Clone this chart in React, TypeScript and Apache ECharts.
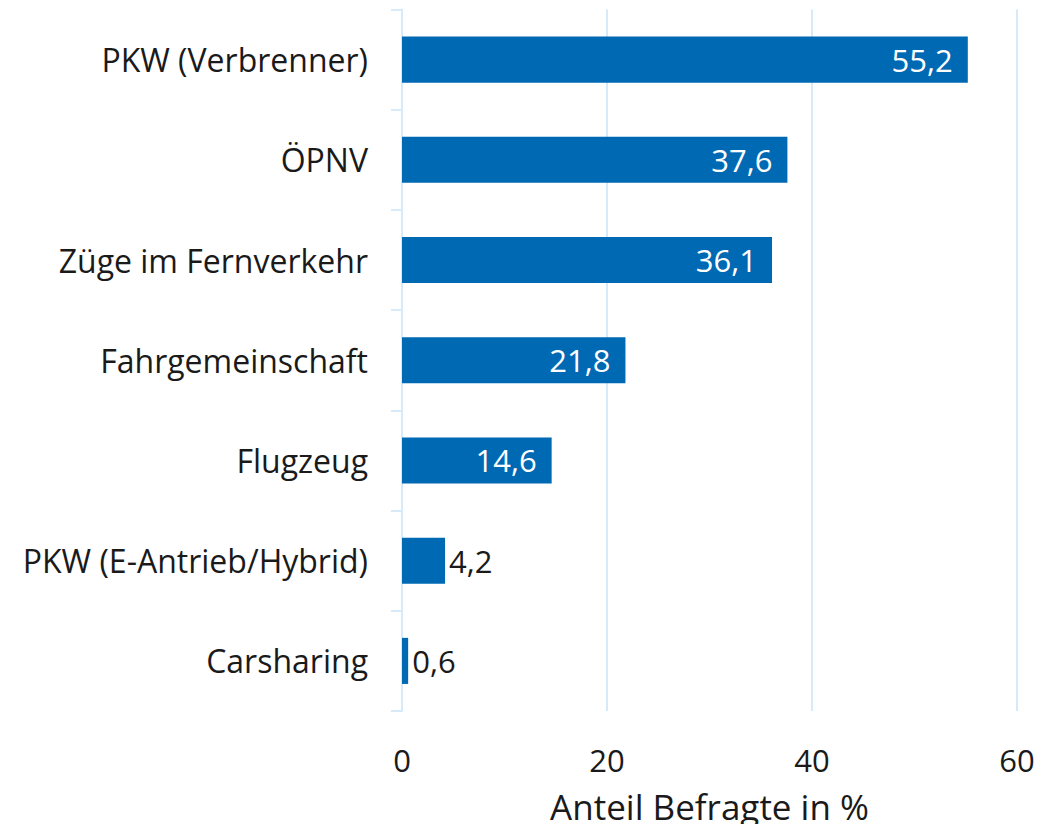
import React, { useEffect, useRef } from "react";
import * as echarts from "echarts";

const categories = [
  "PKW (Verbrenner)",
  "ÖPNV",
  "Züge im Fernverkehr",
  "Fahrgemeinschaft",
  "Flugzeug",
  "PKW (E-Antrieb/Hybrid)",
  "Carsharing",
];
const values = [55.2, 37.6, 36.1, 21.8, 14.6, 4.2, 0.6];
const xTicks = [0, 20, 40, 60];
const axisTitle = "Anteil Befragte in %";

const fmt = (v: number) => v.toFixed(1).replace(".", ",");

export default function App() {
  const ref = useRef<HTMLDivElement>(null);
  useEffect(() => {
    if (!ref.current) return;
    const chart = echarts.init(ref.current, undefined, { renderer: "svg" });
    const font = "'Open Sans', sans-serif";
    chart.setOption({
      animation: false,
      grid: { left: 402, right: 31, top: 9.5, bottom: 121, containLabel: false },
      xAxis: {
        type: "value",
        min: xTicks[0],
        max: xTicks[xTicks.length - 1],
        interval: 20,
        name: axisTitle,
        nameLocation: "middle",
        nameGap: 78,
        nameTextStyle: { fontSize: 35, color: "#1a1a1a", fontFamily: font },
        axisLine: { show: false },
        axisTick: { show: false },
        axisLabel: { fontSize: 31, color: "#1a1a1a", fontFamily: font, margin: 33 },
        splitLine: { show: true, lineStyle: { color: "#d6eafa", width: 2 } },
      },
      yAxis: {
        type: "category",
        data: categories,
        inverse: true,
        axisLine: { show: true, lineStyle: { color: "#d6eafa", width: 2 } },
        axisTick: { show: true, length: 11, lineStyle: { color: "#d6eafa", width: 2 } },
        axisLabel: { fontSize: 32, color: "#1a1a1a", fontFamily: font, margin: 34 },
      },
      series: [
        {
          type: "bar",
          barWidth: "46%",
          itemStyle: { color: "#0069b4" },
          data: values.map((v) => ({
            value: v,
            label:
              v > 10
                ? { show: true, position: "insideRight", distance: 15, color: "#ffffff" }
                : { show: true, position: "right", distance: 4, color: "#1a1a1a" },
          })),
          label: {
            fontSize: 31,
            fontFamily: font,
            formatter: (p: any) => fmt(p.value),
          },
        },
      ],
    });
    return () => chart.dispose();
  }, []);
  return <div ref={ref} style={{ width: 1048, height: 832, margin: -8 }} />;
}
